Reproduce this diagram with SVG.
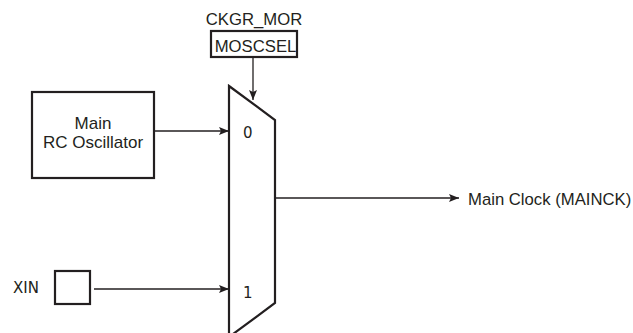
<svg xmlns="http://www.w3.org/2000/svg" width="633" height="333" viewBox="0 0 633 333">
<defs>
<marker id="arr" markerWidth="10" markerHeight="8" refX="10" refY="4" orient="auto" markerUnits="userSpaceOnUse">
<path d="M0,0 L10,4 L0,8 L2,4 Z" fill="#231f20"/>
</marker>
<style>
.box{fill:#fff;stroke:#231f20;stroke-width:2.2}
.ln{fill:none;stroke:#231f20;stroke-width:1.3;marker-end:url(#arr)}
.t{font-family:"Liberation Sans",Arial,sans-serif;font-size:16.7px;fill:#231f20}
.big{font-size:17px}
.v{font-family:"DejaVu Sans",Verdana,sans-serif;font-size:15px;fill:#231f20}
</style>
</defs>
<rect width="633" height="333" fill="#fff"/>
<g id="moscsel">
<text class="t" x="254" y="25" text-anchor="middle">CKGR_MOR</text>
<rect class="box" x="211" y="31" width="86" height="26"/>
<text class="t" x="255.5" y="52" text-anchor="middle">MOSCSEL</text>
</g>
<g id="rc">
<rect class="box" x="32" y="92" width="122" height="86"/>
<text class="t big" x="93" y="129" text-anchor="middle">Main</text>
<text class="t big" x="93" y="148" text-anchor="middle">RC Oscillator</text>
</g>
<g id="xin">
<text class="v" x="13" y="293">XIN</text>
<rect class="box" x="55" y="271" width="35" height="33"/>
</g>
<g id="mux">
<polygon class="box" points="229,86 275,120 275,303 229,337"/>
<text class="v" x="243" y="138">0</text>
<text class="v" x="243" y="298">1</text>
</g>
<g id="out">
<text class="t" x="468" y="205">Main Clock (MAINCK)</text>
</g>
<g id="connectors">
<line class="ln" x1="253" y1="57" x2="253" y2="100"/>
<line class="ln" x1="154" y1="131" x2="229" y2="131"/>
<line class="ln" x1="94" y1="289" x2="229" y2="289"/>
<line class="ln" x1="275" y1="198" x2="459" y2="198"/>
</g>
</svg>
